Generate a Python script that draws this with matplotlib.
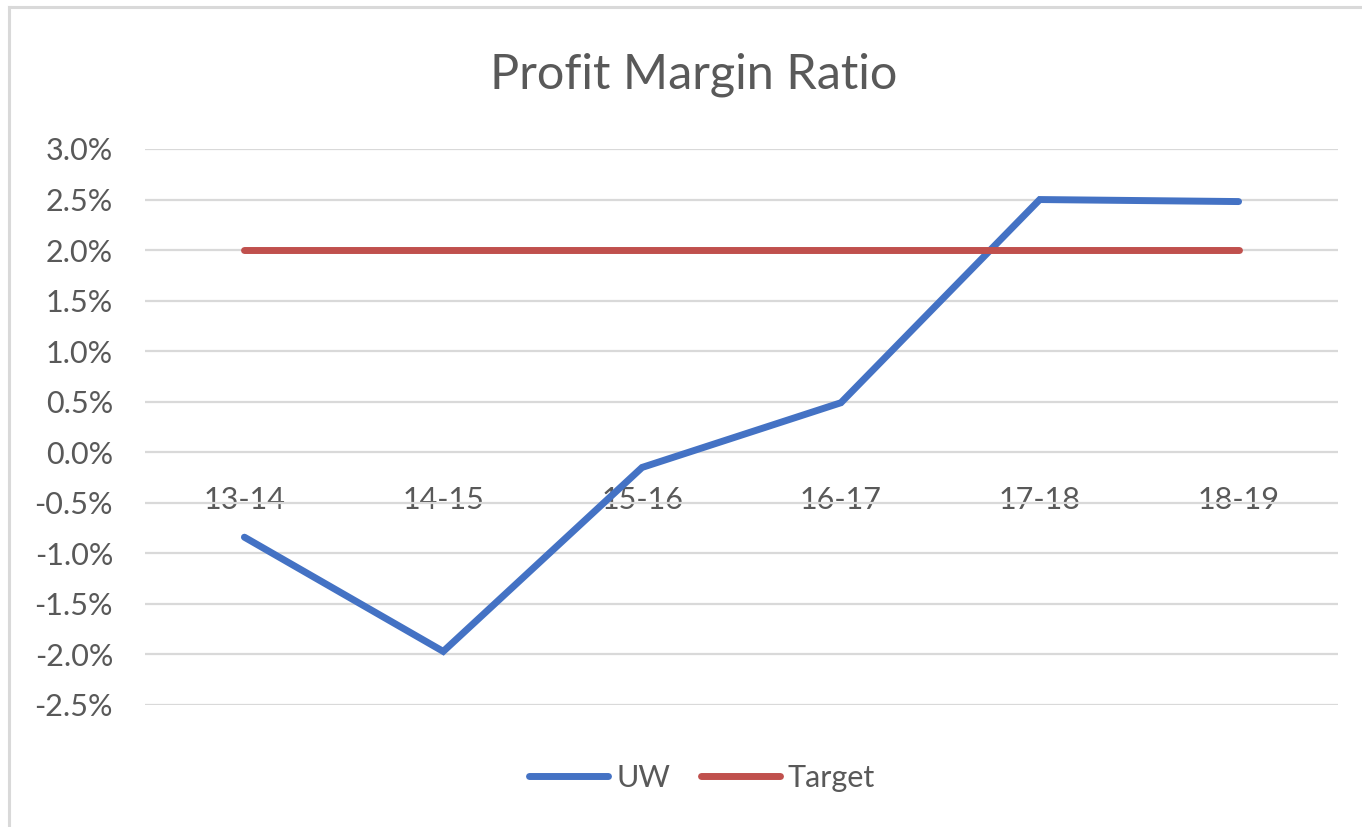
import matplotlib.pyplot as plt
from matplotlib.lines import Line2D

# data
seasons = ['13-14', '14-15', '15-16', '16-17', '17-18', '18-19']
uw = [-0.84, -1.97, -0.15, 0.49, 2.50, 2.48]
target = [2.0, 2.0, 2.0, 2.0, 2.0, 2.0]
yticks = [-2.5, -2.0, -1.5, -1.0, -0.5, 0.0, 0.5, 1.0, 1.5, 2.0, 2.5, 3.0]

plt.rcParams['font.family'] = ['Lato', 'DejaVu Sans']
text_col = '#595959'
grid_col = '#D9D9D9'

fig = plt.figure(figsize=(13.62, 8.27), dpi=100)
ax = fig.add_axes([145/1362, 1 - 705/827, 1193/1362, 556/827])

x = range(len(seasons))
ax.plot(x, uw, color='#4472C4', lw=5, solid_capstyle='round', solid_joinstyle='miter', label='UW', zorder=3)
ax.plot(x, target, color='#C0504D', lw=5, solid_capstyle='round', label='Target', zorder=3)

ax.set_xlim(-0.5, len(seasons) - 0.5)
ax.set_ylim(-2.5, 3.0)
ax.set_yticks(yticks)
ax.set_yticklabels([f'{v:.1f}%' for v in yticks])
ax.set_xticks(list(x))
ax.set_xticklabels(seasons)
ax.yaxis.grid(True, color=grid_col, lw=1.6)
ax.set_axisbelow(True)
for s in ax.spines.values():
    s.set_visible(False)
ax.spines['bottom'].set_position(('data', 0))
ax.tick_params(axis='y', length=0, pad=23, labelsize=22, labelcolor=text_col)
ax.tick_params(axis='x', length=0, pad=24, labelsize=22, labelcolor=text_col)

fig.text(694/1362, 1 - 75/827, 'Profit Margin Ratio', ha='center', va='center',
         fontsize=35, color=text_col)

leg = fig.legend(loc='center', bbox_to_anchor=(702/1362, 1 - 778/827), ncol=2,
                 frameon=False, fontsize=22, handlelength=2.6, handletextpad=0.25,
                 columnspacing=1.0)
for t in leg.get_texts():
    t.set_color(text_col)

# chart border (only top and left are visible in the crop)
bc = '#D9D9D9'
fig.add_artist(Line2D([9/1362, 9/1362], [0, 1 - 7/827], color=bc, lw=2.2))
fig.add_artist(Line2D([9/1362, 1], [1 - 7/827, 1 - 7/827], color=bc, lw=2.2))

plt.savefig('out.png', dpi=100)
